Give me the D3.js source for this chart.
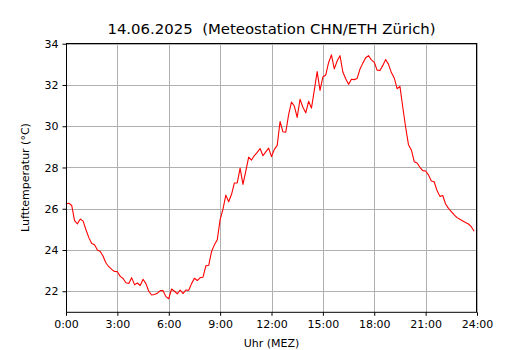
<!DOCTYPE html>
<html>
<head>
<meta charset="utf-8">
<script src="https://cdn.jsdelivr.net/npm/d3@7"></script>
<style>
  html, body { margin: 0; padding: 0; background: #fff; }
  svg { display: block; }
  text { font-family: "DejaVu Sans", sans-serif; fill: #000; }
</style>
</head>
<body>
<svg id="chart" width="530" height="350"></svg>
<script>
// ---- data ----
const titleText = "14.06.2025  (Meteostation CHN/ETH Zürich)";
const xLabel = "Uhr (MEZ)";
const yLabel = "Lufttemperatur (°C)";
const stepMinutes = 10; // measurements every 10 minutes starting 0:00
const temperature = [
  26.23, 26.27, 26.16, 25.42, 25.27, 25.50, 25.40, 24.98, 24.60, 24.32,
  24.26, 24.00, 23.93, 23.70, 23.37, 23.19, 23.06, 22.96, 22.95, 22.72,
  22.62, 22.41, 22.38, 22.66, 22.32, 22.40, 22.28, 22.58, 22.37, 22.00,
  21.82, 21.84, 21.90, 22.03, 22.03, 21.74, 21.64, 22.11, 22.00, 21.87,
  22.06, 21.89, 22.06, 22.05, 22.37, 22.63, 22.52, 22.66, 22.68, 23.23,
  23.26, 23.93, 24.25, 24.50, 25.47, 25.98, 26.66, 26.34, 26.70, 27.25,
  27.25, 27.97, 27.18, 27.82, 28.50, 28.36, 28.58, 28.73, 28.92, 28.57,
  28.76, 28.94, 28.53, 28.88, 29.07, 30.23, 29.73, 29.71, 30.56, 31.17,
  30.98, 30.43, 31.31, 30.92, 30.65, 31.21, 30.88, 31.75, 32.65, 31.74,
  32.39, 32.48, 33.08, 33.46, 32.78, 33.16, 33.42, 32.63, 32.30, 32.03,
  32.28, 32.26, 32.32, 32.77, 33.06, 33.32, 33.42, 33.22, 33.10, 32.72,
  32.70, 32.95, 33.24, 33.00, 32.60, 32.34, 31.82, 31.93, 30.92, 29.95,
  29.10, 28.85, 28.28, 28.22, 28.01, 27.85, 27.83, 27.64, 27.35, 27.31,
  26.88, 26.60, 26.64, 26.23, 26.02, 25.86, 25.70, 25.57, 25.49, 25.41,
  25.33, 25.26, 25.13, 24.91
];
const xTicks = [0, 3, 6, 9, 12, 15, 18, 21, 24];
const xTickLabels = ["0:00", "3:00", "6:00", "9:00", "12:00", "15:00", "18:00", "21:00", "24:00"];
const yTicks = [22, 24, 26, 28, 30, 32, 34];
const xDomain = [0, 24];
const yDomain = [20.98, 34.05];

// ---- layout ----
const W = 530, H = 350;
const m = { left: 66, right: 53, top: 42.7, bottom: 37.7 };
const svg = d3.select("#chart");

const x = d3.scaleLinear().domain(xDomain).range([m.left, W - m.right]);
const y = d3.scaleLinear().domain(yDomain).range([H - m.bottom, m.top]);

const data = temperature.map((v, i) => ({ h: i * stepMinutes / 60, v }));

// grid
const grid = svg.append("g");
grid.selectAll("line.gx").data(xTicks).join("line")
  .attr("x1", d => Math.round(x(d)) + 0.5).attr("x2", d => Math.round(x(d)) + 0.5)
  .attr("y1", m.top).attr("y2", H - m.bottom)
  .attr("stroke", "#b0b0b0").attr("stroke-width", 1);
grid.selectAll("line.gy").data(yTicks).join("line")
  .attr("y1", d => Math.round(y(d)) + 0.5).attr("y2", d => Math.round(y(d)) + 0.5)
  .attr("x1", m.left).attr("x2", W - m.right)
  .attr("stroke", "#b0b0b0").attr("stroke-width", 1);

// line
svg.append("path").datum(data)
  .attr("fill", "none").attr("stroke", "#ff0000").attr("stroke-width", 1.1)
  .attr("stroke-linejoin", "round")
  .attr("d", d3.line().x(d => x(d.h)).y(d => y(d.v)));

// frame
svg.append("rect")
  .attr("x", m.left + 0.5).attr("y", Math.round(m.top) + 0.5)
  .attr("width", W - m.right - m.left - 1).attr("height", H - m.bottom - Math.round(m.top) - 0.5)
  .attr("fill", "none").attr("stroke", "#000").attr("stroke-width", 1);

// axes
const xAxis = d3.axisBottom(x).tickValues(xTicks)
  .tickFormat((d, i) => xTickLabels[i]).tickSize(3.5).tickPadding(4);
const gx = svg.append("g").attr("transform", `translate(0,${H - m.bottom})`).call(xAxis);
gx.select(".domain").remove();
gx.selectAll("text").attr("font-size", "11px").attr("font-family", "DejaVu Sans");

const yAxis = d3.axisLeft(y).tickValues(yTicks).tickFormat(d3.format("d")).tickSize(3.5).tickPadding(4);
const gy = svg.append("g").attr("transform", `translate(${m.left},0)`).call(yAxis);
gy.select(".domain").remove();
gy.selectAll("text").attr("font-size", "11px").attr("font-family", "DejaVu Sans");

// title and labels
svg.append("text").attr("x", (m.left + W - m.right) / 2).attr("y", 34)
  .attr("text-anchor", "middle").attr("font-size", "14.9px")
  .style("white-space", "pre").attr("xml:space", "preserve").text(titleText);
svg.append("text").attr("x", (m.left + W - m.right) / 2).attr("y", 346.5)
  .attr("text-anchor", "middle").attr("font-size", "11px").text(xLabel);
svg.append("text").attr("transform", `translate(29,${(m.top + H - m.bottom) / 2}) rotate(-90)`)
  .attr("text-anchor", "middle").attr("font-size", "11px").text(yLabel);
</script>
</body>
</html>
